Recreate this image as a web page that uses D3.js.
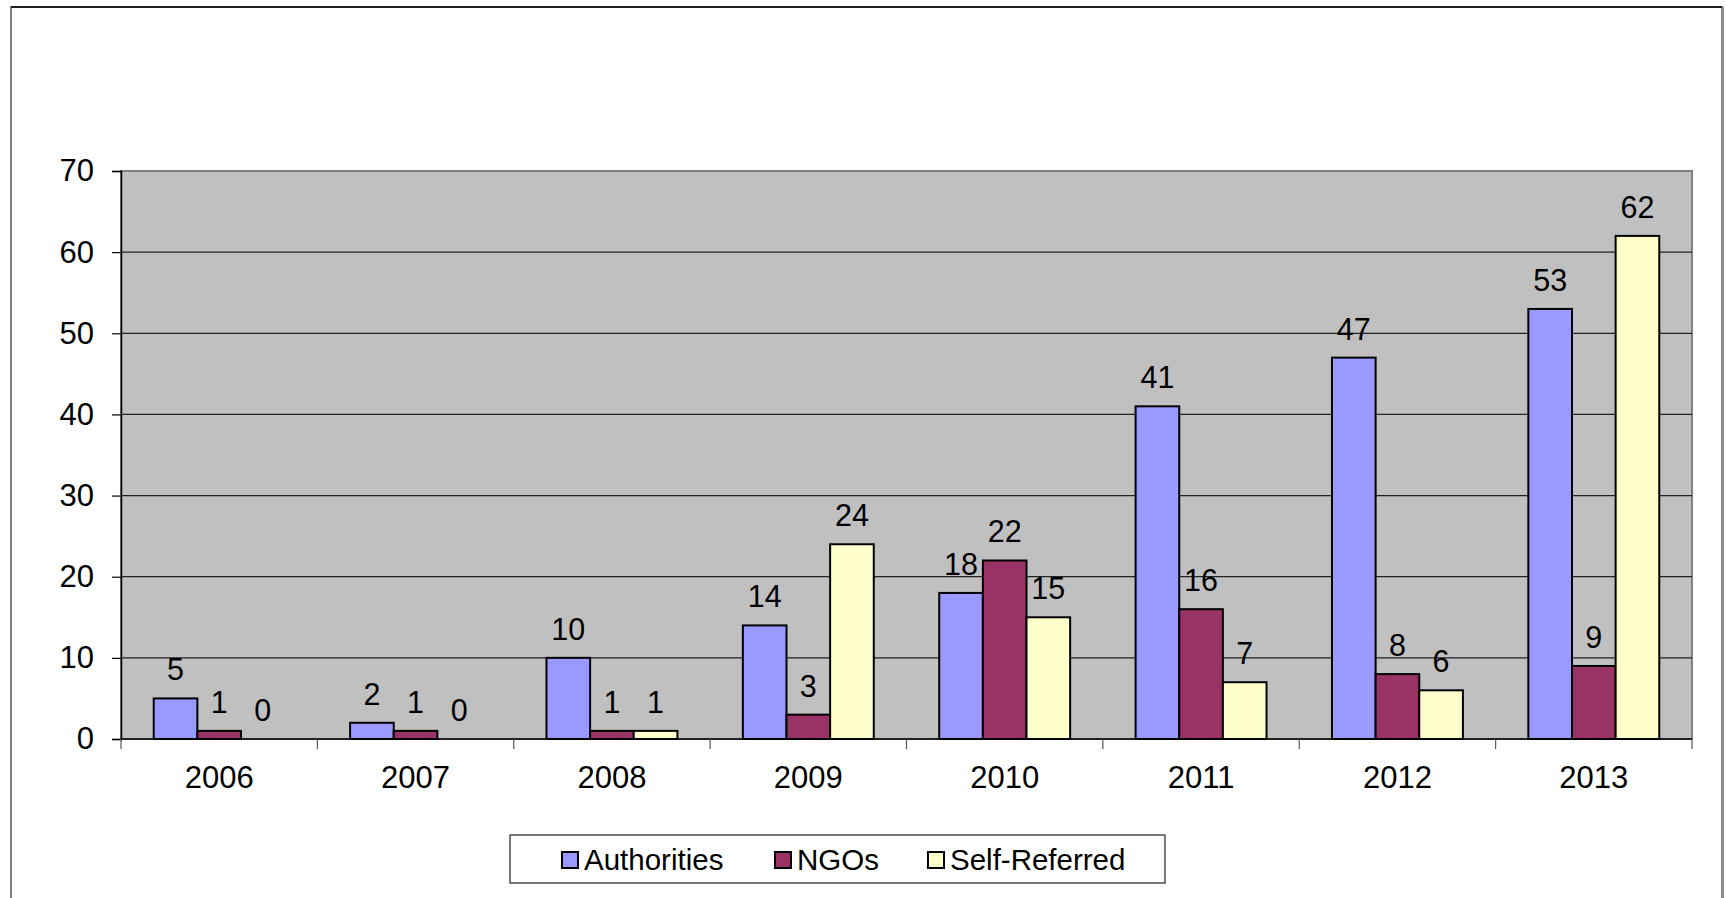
<!DOCTYPE html>
<html>
<head>
<meta charset="utf-8">
<script src="https://cdn.jsdelivr.net/npm/d3@7"></script>
<style>
  body { margin: 0; background: #fff; }
  svg { display: block; font-family: "Liberation Sans", Arial, sans-serif; }
</style>
</head>
<body>
<svg id="chart" width="1727" height="898"></svg>
<script>
const years = ["2006", "2007", "2008", "2009", "2010", "2011", "2012", "2013"];
const seriesNames = ["Authorities", "NGOs", "Self-Referred"];
const authorities = [5, 2, 10, 14, 18, 41, 47, 53];
const ngos = [1, 1, 1, 3, 22, 16, 8, 9];
const selfReferred = [0, 0, 1, 24, 15, 7, 6, 62];
const yTicks = [0, 10, 20, 30, 40, 50, 60, 70];
const colors = ["#9999FF", "#993366", "#FFFFCC"];

const seriesValues = [authorities, ngos, selfReferred];
const svg = d3.select("#chart");

const L = 121, R = 1692, T = 171, B = 739;

// outer frame
svg.append("rect").attr("x", 11).attr("y", 7).attr("width", 1711).attr("height", 900)
  .attr("fill", "#fff").attr("stroke", "#808080").attr("stroke-width", 2);
svg.append("line").attr("x1", 11).attr("x2", 1722).attr("y1", 7).attr("y2", 7)
  .attr("stroke", "#000").attr("stroke-width", 1.5);
svg.append("line").attr("x1", 1723).attr("x2", 1723).attr("y1", 7).attr("y2", 898)
  .attr("stroke", "#909090").attr("stroke-width", 2);

const x0 = d3.scaleBand().domain(years).range([L, R]).paddingInner(0).paddingOuter(0);
const x1 = d3.scaleBand().domain(seriesNames).range([0, x0.bandwidth()]).paddingInner(0).paddingOuter(0.75);
const y = d3.scaleLinear().domain([0, 70]).range([B, T]);

// plot area
svg.append("rect").attr("x", L).attr("y", T).attr("width", R - L).attr("height", B - T)
  .attr("fill", "#C0C0C0").attr("stroke", "#808080").attr("stroke-width", 2);

// gridlines
svg.append("g").selectAll("line").data(yTicks.filter(d => d > 0 && d < 70)).join("line")
  .attr("x1", L).attr("x2", R).attr("y1", d => y(d)).attr("y2", d => y(d))
  .attr("stroke", "#222").attr("stroke-width", 1.2);

// y axis
const yAxis = svg.append("g").attr("transform", `translate(${L},0)`)
  .call(d3.axisLeft(y).tickValues(yTicks).tickSize(9).tickPadding(18));
yAxis.select(".domain").attr("stroke", "#000").attr("stroke-width", 1.5);
yAxis.selectAll(".tick line").attr("stroke", "#000").attr("stroke-width", 1.2);
yAxis.selectAll(".tick text").attr("font-size", 31).attr("fill", "#000")
  .attr("font-family", "Liberation Sans, Arial, sans-serif");

// bars
const groups = svg.append("g").selectAll("g").data(years).join("g")
  .attr("transform", d => `translate(${x0(d)},0)`);
groups.selectAll("rect").data((d, i) => seriesNames.map((s, j) => ({ s, j, v: seriesValues[j][i] })))
  .join("rect")
  .attr("x", d => x1(d.s)).attr("width", x1.bandwidth())
  .attr("y", d => y(d.v)).attr("height", d => y(0) - y(d.v))
  .attr("fill", d => colors[d.j]).attr("stroke", "#000").attr("stroke-width", d => d.v > 0 ? 2 : 0);

// labels
groups.selectAll("text").data((d, i) => seriesNames.map((s, j) => ({ s, j, v: seriesValues[j][i] })))
  .join("text")
  .attr("x", d => x1(d.s) + x1.bandwidth() / 2).attr("y", d => y(d.v) - 18)
  .attr("text-anchor", "middle").attr("font-size", 30.5).attr("fill", "#000")
  .text(d => d.v);

// x axis
svg.append("line").attr("x1", L).attr("x2", R).attr("y1", B).attr("y2", B)
  .attr("stroke", "#000").attr("stroke-width", 1.5);
const xTickPos = years.map(d => x0(d)).concat([x0(years[years.length - 1]) + x0.bandwidth()]);
svg.append("g").selectAll("line").data(xTickPos).join("line")
  .attr("x1", d => d).attr("x2", d => d).attr("y1", B).attr("y2", B + 10)
  .attr("stroke", "#555").attr("stroke-width", 1.2);
const xAxis = svg.append("g").attr("transform", `translate(0,${B})`)
  .call(d3.axisBottom(x0).tickSize(0).tickPadding(27));
xAxis.select(".domain").remove();
xAxis.selectAll(".tick text").attr("font-size", 31).attr("fill", "#000")
  .attr("font-family", "Liberation Sans, Arial, sans-serif");

// legend
const lg = svg.append("g");
lg.append("rect").attr("x", 510).attr("y", 835).attr("width", 655).attr("height", 48)
  .attr("fill", "#fff").attr("stroke", "#222").attr("stroke-width", 1.2);
const legX = [562, 775, 928];
const items = lg.selectAll("g").data(seriesNames).join("g")
  .attr("transform", (d, i) => `translate(${legX[i]},0)`);
items.append("rect").attr("x", 0).attr("y", 852).attr("width", 16).attr("height", 16)
  .attr("fill", (d, i) => colors[i]).attr("stroke", "#000").attr("stroke-width", 2);
items.append("text").attr("x", 22).attr("y", 870).attr("font-size", 29.5).attr("fill", "#000")
  .text(d => d);
</script>
</body>
</html>
